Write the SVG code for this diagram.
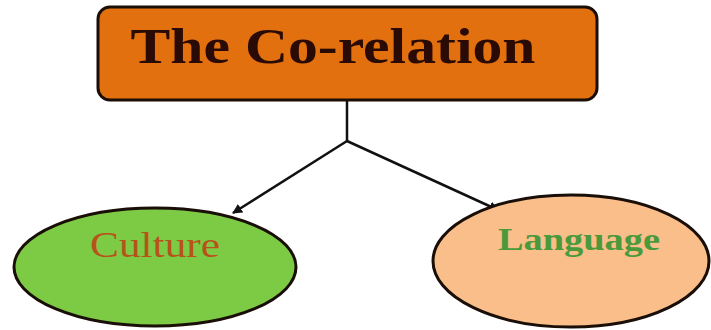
<svg xmlns="http://www.w3.org/2000/svg" width="711" height="330" viewBox="0 0 711 330">
<defs>
<style>
.edge{stroke:#111;stroke-width:2.5;fill:none}
.node{stroke:#1a0e08;stroke-width:3}
text{font-family:"Liberation Serif","Times New Roman",serif}
</style>
<marker id="ah" viewBox="0 0 10 10" refX="9" refY="5" markerWidth="4" markerHeight="4" orient="auto"><path d="M0,0L10,5L0,10z" fill="#111"/></marker>
</defs>
<rect width="711" height="330" fill="#fff"/>
<g id="connectors">
<path class="edge" d="M347,101V141" stroke-width="3"/>
<path class="edge" d="M347,141L233,213" marker-end="url(#ah)"/>
<path class="edge" d="M347,141L498,210" marker-end="url(#ah)"/>
</g>
<g id="top">
<rect class="node" x="98" y="7" width="499" height="93" rx="12" fill="#E3700F"/>
<text x="333" y="63" text-anchor="middle" font-size="50" font-weight="bold" fill="#2a0a05" textLength="405" lengthAdjust="spacingAndGlyphs">The Co-relation</text>
</g>
<g id="culture">
<ellipse class="node" cx="155" cy="267" rx="141" ry="59" fill="#7DCB45"/>
<text x="155" y="257" text-anchor="middle" font-size="36" fill="#B8521A" textLength="130" lengthAdjust="spacingAndGlyphs">Culture</text>
</g>
<g id="language">
<ellipse class="node" cx="571" cy="261" rx="138" ry="66" fill="#F9BE8A"/>
<text x="579" y="250" text-anchor="middle" font-size="32" font-weight="bold" fill="#4A9A3C" textLength="162" lengthAdjust="spacingAndGlyphs">Language</text>
</g>
</svg>
